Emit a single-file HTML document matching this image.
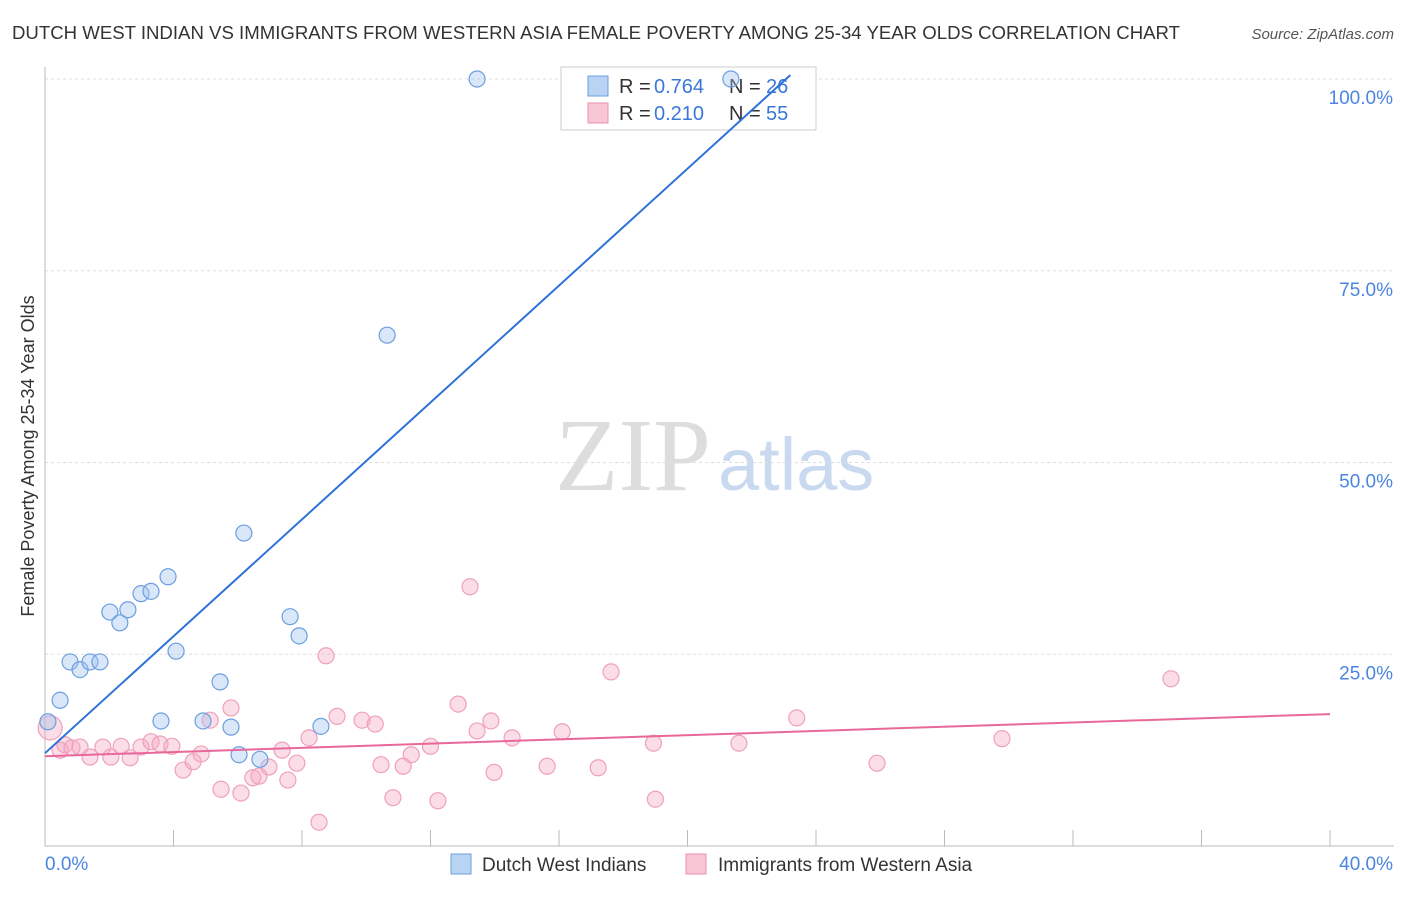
<!DOCTYPE html>
<html><head><meta charset="utf-8"><style>
body{margin:0;background:#fff;font-family:"Liberation Sans",sans-serif;}
</style></head><body>
<svg id="chart" width="1406" height="892" xmlns="http://www.w3.org/2000/svg" font-family="Liberation Sans, sans-serif">
<text x="12" y="39" font-size="18" fill="#333" textLength="1168" lengthAdjust="spacingAndGlyphs">DUTCH WEST INDIAN VS IMMIGRANTS FROM WESTERN ASIA FEMALE POVERTY AMONG 25-34 YEAR OLDS CORRELATION CHART</text>
<text x="1394" y="39" font-size="15" fill="#555" font-style="italic" text-anchor="end">Source: ZipAtlas.com</text>
<text x="555" y="490" font-size="104" fill="#ddd" font-family="Liberation Serif, serif">ZIP</text>
<text x="718" y="490" font-size="74" fill="#c9daf0">atlas</text>
<text transform="translate(34,456) rotate(-90)" font-size="18" fill="#333" text-anchor="middle">Female Poverty Among 25-34 Year Olds</text>
<g id="grid"></g>
<g>
<rect x="561" y="67" width="255" height="63" fill="#fff" stroke="#ccc"/>
<rect x="588" y="76" width="20" height="20" fill="#b9d3f3" stroke="#6b9fe0"/>
<rect x="588" y="103" width="20" height="20" fill="#f9c6d6" stroke="#ee8fae"/>
<text x="619" y="93" font-size="20" fill="#333">R =</text><text x="654" y="93" font-size="20" fill="#3a78d8">0.764</text>
<text x="729" y="93" font-size="20" fill="#333">N =</text><text x="766" y="93" font-size="20" fill="#3a78d8">26</text>
<text x="619" y="120" font-size="20" fill="#333">R =</text><text x="654" y="120" font-size="20" fill="#3a78d8">0.210</text>
<text x="729" y="120" font-size="20" fill="#333">N =</text><text x="766" y="120" font-size="20" fill="#3a78d8">55</text>
</g>
<g id="pts"></g><g id="lines"></g>
<g>
<rect x="451" y="854" width="20" height="20" fill="#b9d3f3" stroke="#6b9fe0"/>
<text x="482" y="871" font-size="19" fill="#333">Dutch West Indians</text>
<rect x="686" y="854" width="20" height="20" fill="#f9c6d6" stroke="#ee8fae"/>
<text x="718" y="871" font-size="19" fill="#333">Immigrants from Western Asia</text>
</g>
</svg>
<script>
const blueX=[0.09,0.47,0.78,1.09,1.4,1.71,2.02,2.33,2.58,2.99,3.3,3.83,3.61,4.08,4.92,5.45,5.79,6.04,6.19,6.69,7.63,7.91,8.59,10.65,13.45,21.35];
const blueY=[16.2,19.0,24.0,23.0,24.0,24.0,30.5,29.1,30.8,32.9,33.2,35.1,16.3,25.4,16.3,21.4,15.5,11.9,40.8,11.3,29.9,27.4,15.6,66.6,100,100];
const pinkX=[0.16,0.47,0.62,0.84,1.09,1.4,1.8,2.05,2.37,2.65,2.99,3.3,3.58,3.95,4.3,4.61,4.86,5.14,5.48,5.79,6.1,6.47,6.66,6.97,7.38,7.56,7.84,8.22,8.53,8.75,9.09,9.87,10.28,10.46,10.83,11.15,11.4,12.0,12.23,12.86,13.23,13.45,13.88,13.98,14.54,15.63,16.1,17.22,17.62,18.94,19.0,21.6,23.4,25.9,29.79,35.05];
const pinkY=[15.4,12.5,13.2,12.8,12.9,11.6,12.9,11.6,13.0,11.5,12.9,13.6,13.3,13.0,9.9,11.0,12.0,16.4,7.4,18.0,6.9,8.9,9.1,10.3,12.5,8.6,10.8,14.1,3.1,24.8,16.9,16.4,15.9,10.6,6.3,10.4,11.9,13.0,5.9,18.5,33.8,15.0,16.3,9.6,14.1,10.4,14.9,10.2,22.7,13.4,6.1,13.4,16.7,10.8,14.0,21.8];
const blueLine=[0,12.1,23.2,100.5];
const pinkLine=[0,11.7,40,17.2];
const yTicks=[100,75,50,25];
const yLabels=["100.0%","75.0%","50.0%","25.0%"];
const NS="http://www.w3.org/2000/svg";
const X=v=>45+v/40*1285, Y=v=>846-v*7.67;
function mk(t,a,p){const e=document.createElementNS(NS,t);for(const k in a)e.setAttribute(k,a[k]);p.appendChild(e);return e;}
const g=document.getElementById('grid');
yTicks.forEach((t,i)=>{
 const l=mk('line',{x1:45,x2:1394,y1:Y(t),y2:Y(t),stroke:'#ddd','stroke-dasharray':'3,3'},g);
 
 
 const tx=mk('text',{x:1393,y:Y(t)+25,'font-size':19,fill:'#4a86e0','text-anchor':'end'},g);tx.textContent=yLabels[i];
 
 
});
const ax=mk('line',{x1:45,x2:45,y1:67,y2:846,stroke:'#bbb'},g);


const bx=mk('line',{x1:45,x2:1394,y1:846,y2:846,stroke:'#bbb'},g);


for(let i=0;i<=10;i++){const t=mk('line',{x1:X(i*4),x2:X(i*4),y1:830,y2:846,stroke:'#bbb'},g);
 
 }
[["0.0%",45,'start'],["40.0%",1393,'end']].forEach(a=>{const t=mk('text',{x:a[1],y:870,'font-size':19,fill:'#4a86e0','text-anchor':a[2]},g);t.textContent=a[0];
 
 });
const p=document.getElementById('pts');
pinkX.forEach((x,i)=>{const c=mk('circle',{cx:X(x),cy:Y(pinkY[i]),r:i==0?12:8,fill:'rgba(246,170,195,0.4)',stroke:'#f0a0bb','stroke-width':1.2},p);
 
 });
blueX.forEach((x,i)=>{const c=mk('circle',{cx:X(x),cy:Y(blueY[i]),r:8,fill:'rgba(160,195,240,0.4)',stroke:'#6b9fe0','stroke-width':1.2},p);
 
 });
const L=document.getElementById('lines');
const bl=mk('line',{x1:X(blueLine[0]),y1:Y(blueLine[1]),x2:X(blueLine[2]),y2:Y(blueLine[3]),stroke:'#2f72d8','stroke-width':2},L);


const pl=mk('line',{x1:X(pinkLine[0]),y1:Y(pinkLine[1]),x2:X(pinkLine[2]),y2:Y(pinkLine[3]),stroke:'#e8689a','stroke-width':2},L);


</script>
</body></html>
